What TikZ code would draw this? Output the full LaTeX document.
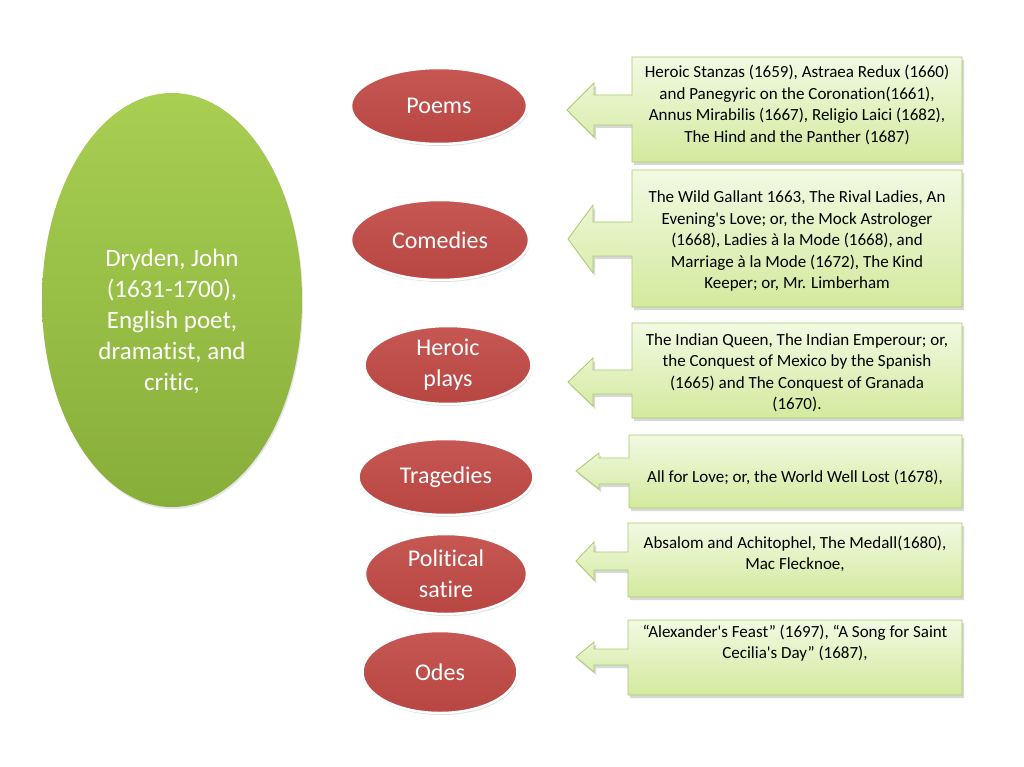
\documentclass[tikz,border=0pt]{standalone}
\usepackage{fontspec}
\setmainfont{Carlito}[Ligatures={NoCommon}]
\usetikzlibrary{shapes.geometric,shadows,positioning}

\definecolor{authorTop}{RGB}{168,207,82}
\definecolor{authorBottom}{RGB}{136,174,58}
\definecolor{genreTop}{RGB}{198,87,83}
\definecolor{genreBottom}{RGB}{184,70,67}
\definecolor{boxTop}{RGB}{242,249,226}
\definecolor{boxBottom}{RGB}{211,234,158}
\definecolor{boxLine}{RGB}{170,202,110}

\tikzset{
  author/.style={ellipse, top color=authorTop, bottom color=authorBottom,
    minimum width=260pt, minimum height=414pt, inner sep=0pt,
    drop shadow={opacity=0.2, shadow xshift=1pt, shadow yshift=-2pt}},
  authortext/.style={text=white, align=center, font=\fontsize{25}{31}\selectfont},
  genre/.style={ellipse, draw=white, line width=2.5pt, top color=genreTop,
    bottom color=genreBottom, text=white, align=center, inner sep=0pt,
    font=\fontsize{24}{31}\selectfont,
    drop shadow={opacity=0.25, shadow xshift=1pt, shadow yshift=-2pt}},
  callout/.style={draw=boxLine, line width=0.8pt, top color=boxTop, bottom color=boxBottom,
    drop shadow={opacity=0.3, shadow xshift=2pt, shadow yshift=-3pt}},
  note/.style={align=center, font=\fontsize{17}{21.5}\selectfont, inner sep=0pt}
}

% left arrow callout: left, top, bottom, tip x, head x, mid y, head half, shaft half
\newcommand{\noteshape}[8]{%
  \path[callout] (#1,#2) -- (962,#2) -- (962,#3) -- (#1,#3) -- (#1,#6+#8)
    -- (#5,#6+#8) -- (#5,#6+#7) -- (#4,#6) -- (#5,#6-#7) -- (#5,#6-#8)
    -- (#1,#6-#8) -- cycle;
}

\begin{document}
\begin{tikzpicture}[x=1pt, y=-1pt]
  \fill[white] (0,0) rectangle (1024,767);
  \useasboundingbox (0,0) rectangle (1024,767);

  % author
  \node[author] (dryden) at (172,300) {};
  \node[authortext] (drydenText) at (172,321)
    {Dryden, John\\(1631-1700),\\English poet,\\dramatist, and\\critic,};

  % genres
  \node[genre, minimum width=176pt, minimum height=76pt] (poems) at (439,106) {Poems};
  \node[genre, minimum width=178pt, minimum height=80pt] (comedies) at (440,240) {Comedies};
  \node[genre, minimum width=167pt, minimum height=78pt] (heroic) at (448,365) {Heroic\\plays};
  \node[genre, minimum width=175pt, minimum height=76pt] (tragedies) at (446,477) {Tragedies};
  \node[genre, minimum width=162pt, minimum height=80pt] (satire) at (446,574) {Political\\satire};
  \node[genre, minimum width=155pt, minimum height=82pt] (odes) at (440,672) {Odes};

  % works
  \noteshape{632}{57}{162}{567}{594}{110}{27}{15}
  \node[note] (poemsNote) at (797,105)
    {Heroic Stanzas (1659), Astraea Redux (1660)\\and Panegyric on the Coronation(1661),\\
     Annus Mirabilis (1667), Religio Laici (1682),\\The Hind and the Panther (1687)};

  \noteshape{632}{170}{307}{568}{593}{239}{34}{17}
  \node[note] (comediesNote) at (797,241)
    {The Wild Gallant 1663, The Rival Ladies, An\\Evening\textquotesingle s Love; or, the Mock Astrologer\\
     (1668), Ladies à la Mode (1668), and\\Marriage à la Mode (1672), The Kind\\Keeper; or, Mr. Limberham};

  \noteshape{632}{323}{418}{568}{593}{382}{24}{12}
  \node[note] (heroicNote) at (797,373)
    {The Indian Queen, The Indian Emperour; or,\\the Conquest of Mexico by the Spanish\\
     (1665) and The Conquest of Granada\\(1670).};

  \noteshape{629}{435}{508}{576}{599}{471}{18}{13}
  \node[note] (tragediesNote) at (795,477) {All for Love; or, the World Well Lost (1678),};

  \noteshape{628}{523}{597}{576}{594}{561}{19}{9}
  \node[note] (satireNote) at (795,554) {Absalom and Achitophel, The Medall(1680),\\Mac Flecknoe,};

  \noteshape{628}{620}{695}{576}{594}{657}{15}{8}
  \node[note] (odesNote) at (795,643)
    {“Alexander\textquotesingle s Feast” (1697), “A Song for Saint\\Cecilia\textquotesingle s Day” (1687),};
\end{tikzpicture}
\end{document}
